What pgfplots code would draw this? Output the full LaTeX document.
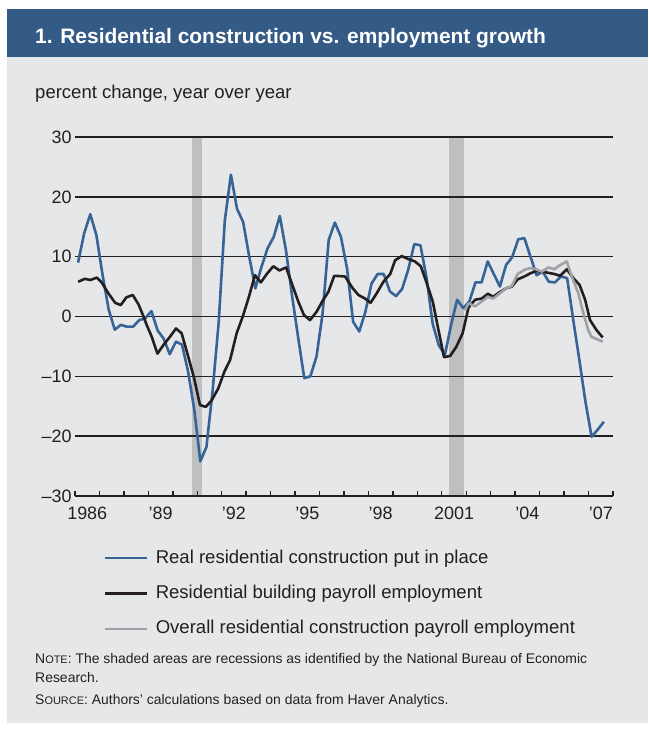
\documentclass[border=0pt]{standalone}
\usepackage{pgfplots}
\pgfplotsset{compat=1.18}
\usepackage{fontspec}
\setmainfont{Liberation Sans}
\definecolor{titleblue}{RGB}{52,90,134}
\definecolor{panelgray}{RGB}{230,231,233}
\definecolor{lineblue}{RGB}{54,100,150}
\definecolor{recess}{RGB}{190,191,193}
\definecolor{ovgray}{RGB}{160,161,164}
\definecolor{ink}{RGB}{35,31,32}

\begin{document}
\begin{tikzpicture}[x=1bp,y=1bp]
\path (0,0) rectangle (648,-730);
\fill[titleblue] (7,-9) rectangle (648,-57);
\node[anchor=base west, inner sep=0pt, text=white, font=\fontsize{21}{25}\selectfont\bfseries] at (35,-44) {1. Residential construction vs. employment growth};
\node[anchor=base west, inner sep=0pt, text=ink, font=\fontsize{18.6}{22}\selectfont] at (35,-99) {percent change, year over year};

\begin{axis}[
  set layers,
  clip=false,
  at={(75bp,-496bp)}, anchor=south west,
  width=538bp, height=359bp, scale only axis,
  xmin=1986, xmax=2008, ymin=-30, ymax=30,
  axis x line*=bottom, axis y line*=left,
  x axis line style={ink, line width=2bp, -},
  y axis line style={draw=none},
  ytick={-30,-20,...,30},
  yticklabels={–30,–20,–10,0,10,20,30},
  ytick style={draw=none},
  ymajorgrids,
  major grid style={ink, line width=1.5bp},
  xtick={1986,...,2008},
  xticklabels={},
  tick align=inside,
  major tick length=5bp,
  x tick style={ink, line width=1.4bp},
  extra x ticks={1986.5,1989.5,1992.5,1995.5,1998.5,2001.5,2004.5,2007.5},
  extra x tick labels={1986,’89,’92,’95,’98,2001,’04,’07},
  extra x tick style={major tick length=0pt, xticklabel style={yshift=-7bp}},
  tick label style={font=\fontsize{18}{20}\selectfont, text=ink},
  legend style={draw=none, fill=none, at={(rel axis cs:0.0539,-0.1476)}, anchor=north west,
    inner sep=0pt, row sep=17.3bp, column sep=7bp, font=\fontsize{18.6}{22}\selectfont, text=ink,
    nodes={inner sep=0pt, text height=14bp, text depth=4bp}},
  legend cell align=left,
  legend image code/.code={\draw[#1] (0bp,0bp) -- (42bp,0bp);},
]
\begin{pgfonlayer}{axis background}
\fill[panelgray] (rel axis cs:-0.12639,-0.63231) rectangle (rel axis cs:1.06506,1.35655);
\end{pgfonlayer}

% recessions
\addplot[fill=recess, draw=none, on layer=axis background, forget plot]
  coordinates {(1990.78,-30) (1991.2,-30) (1991.2,30) (1990.78,30)} -- cycle;
\addplot[fill=recess, draw=none, on layer=axis background, forget plot]
  coordinates {(2001.28,-30) (2001.91,-30) (2001.91,30) (2001.28,30)} -- cycle;

% real residential construction put in place
\addplot[lineblue, line width=2.6bp, line join=round] coordinates {
(1986.125,9.0) (1986.375,13.9) (1986.625,17.1) (1986.875,13.6)
(1987.125,7.0) (1987.375,1.2) (1987.625,-2.2) (1987.875,-1.4)
(1988.125,-1.7) (1988.375,-1.7) (1988.625,-0.6) (1988.875,-0.3)
(1989.125,0.9) (1989.375,-2.3) (1989.625,-3.7) (1989.875,-6.3)
(1990.125,-4.2) (1990.375,-4.7) (1990.625,-9.2) (1990.875,-15.5)
(1991.125,-24.2) (1991.375,-21.8) (1991.625,-12.5) (1991.875,-1.0)
(1992.125,16.0) (1992.375,23.7) (1992.625,18.0) (1992.875,15.8)
(1993.125,10.0) (1993.375,4.7) (1993.625,8.3) (1993.875,11.4)
(1994.125,13.3) (1994.375,16.8) (1994.625,11.1) (1994.875,3.5)
(1995.125,-3.5) (1995.375,-10.3) (1995.625,-10.0) (1995.875,-6.7)
(1996.125,0.5) (1996.375,12.8) (1996.625,15.7) (1996.875,13.3)
(1997.125,8.0) (1997.375,-0.9) (1997.625,-2.5) (1997.875,0.8)
(1998.125,5.5) (1998.375,7.1) (1998.625,7.1) (1998.875,4.2)
(1999.125,3.4) (1999.375,4.6) (1999.625,7.8) (1999.875,12.1)
(2000.125,11.9) (2000.375,6.5) (2000.625,-1.2) (2000.875,-4.8)
(2001.125,-6.4) (2001.375,-1.5) (2001.625,2.8) (2001.875,1.4)
(2002.125,2.5) (2002.375,5.7) (2002.625,5.7) (2002.875,9.2)
(2003.125,7.1) (2003.375,5.0) (2003.625,8.6) (2003.875,9.9)
(2004.125,12.9) (2004.375,13.1) (2004.625,10.0) (2004.875,6.9)
(2005.125,7.5) (2005.375,5.8) (2005.625,5.7) (2005.875,6.7)
(2006.125,6.4) (2006.375,-0.6) (2006.625,-7.3) (2006.875,-14.3)
(2007.125,-20.1) (2007.375,-18.9) (2007.625,-17.6)
};
\addlegendentry{Real residential construction put in place}

% residential building payroll employment
\addplot[ink, line width=2.6bp, line join=round] coordinates {
(1986.13,5.8) (1986.4,6.3) (1986.63,6.1) (1986.89,6.5)
(1987.09,5.7) (1987.36,3.9) (1987.64,2.3) (1987.87,1.9)
(1988.1,3.2) (1988.36,3.6) (1988.6,2.0) (1988.8,0) (1988.93,-1.4)
(1989.14,-3.4) (1989.37,-6.2) (1989.61,-4.8) (1989.88,-3.4)
(1990.13,-2.0) (1990.36,-2.8) (1990.63,-6.7) (1990.87,-10.3)
(1991.11,-14.8) (1991.35,-15.1) (1991.59,-14.0) (1991.86,-12.0)
(1992.11,-9.2) (1992.34,-7.3) (1992.61,-2.8) (1992.86,0.0)
(1993.09,3.0) (1993.36,6.9) (1993.6,5.7) (1993.84,7.1)
(1994.11,8.4) (1994.36,7.7) (1994.63,8.2) (1994.86,5.6)
(1995.13,2.5) (1995.36,0.25) (1995.61,-0.6) (1995.88,0.8)
(1996.15,2.8) (1996.36,4.1) (1996.6,6.8) (1997.04,6.7)
(1997.36,4.7) (1997.59,3.6) (1997.86,3.0)
(1998.09,2.3) (1998.34,3.9) (1998.61,5.8) (1998.89,7.1)
(1999.09,9.4) (1999.36,10.1) (1999.63,9.6) (1999.9,9.2)
(2000.14,8.4) (2000.38,5.6) (2000.63,2.5) (2000.85,-2.0)
(2001.09,-6.8) (2001.34,-6.6) (2001.6,-5.0) (2001.85,-2.8)
(2002.09,1.5) (2002.36,2.8) (2002.63,3.0) (2002.88,3.8)
(2003.1,3.3) (2003.38,4.1) (2003.63,4.7) (2003.86,5.0)
(2004.1,6.2) (2004.38,6.7) (2004.61,7.2) (2004.85,7.6)
(2005.09,7.5) (2005.36,7.3) (2005.6,7.1) (2005.84,6.8)
(2006.11,7.9) (2006.38,6.4) (2006.63,5.3) (2006.86,2.8)
(2007.06,-0.6) (2007.33,-2.3) (2007.58,-3.5)
};
\addlegendentry{Residential building payroll employment}

% overall residential construction payroll employment
\addplot[ovgray, line width=2.6bp, line join=round] coordinates {
(2001.95,1.0) (2002.09,2.2) (2002.36,1.7) (2002.63,2.5) (2002.88,3.3)
(2003.1,3.0) (2003.38,3.9) (2003.63,4.7) (2003.86,5.1)
(2004.1,7.1) (2004.38,7.8) (2004.61,8.1) (2004.85,7.9)
(2005.09,7.5) (2005.36,8.2) (2005.6,7.9) (2005.84,8.6)
(2006.11,9.2) (2006.31,6.7) (2006.58,3.9) (2006.79,0.5)
(2006.99,-2.3) (2007.12,-3.4) (2007.58,-4.2)
};
\addlegendentry{Overall residential construction payroll employment}
\end{axis}

\begin{scope}[every node/.style={anchor=base west, inner sep=0pt, text=ink, font=\fontsize{14}{17}\selectfont}]
\node at (35,-663) {N{\fontsize{11}{13}\selectfont OTE}: The shaded areas are recessions as identified by the National Bureau of Economic};
\node at (35,-682) {Research.};
\node at (35,-704) {S{\fontsize{11}{13}\selectfont OURCE}: Authors’ calculations based on data from Haver Analytics.};
\end{scope}
\end{tikzpicture}
\end{document}
